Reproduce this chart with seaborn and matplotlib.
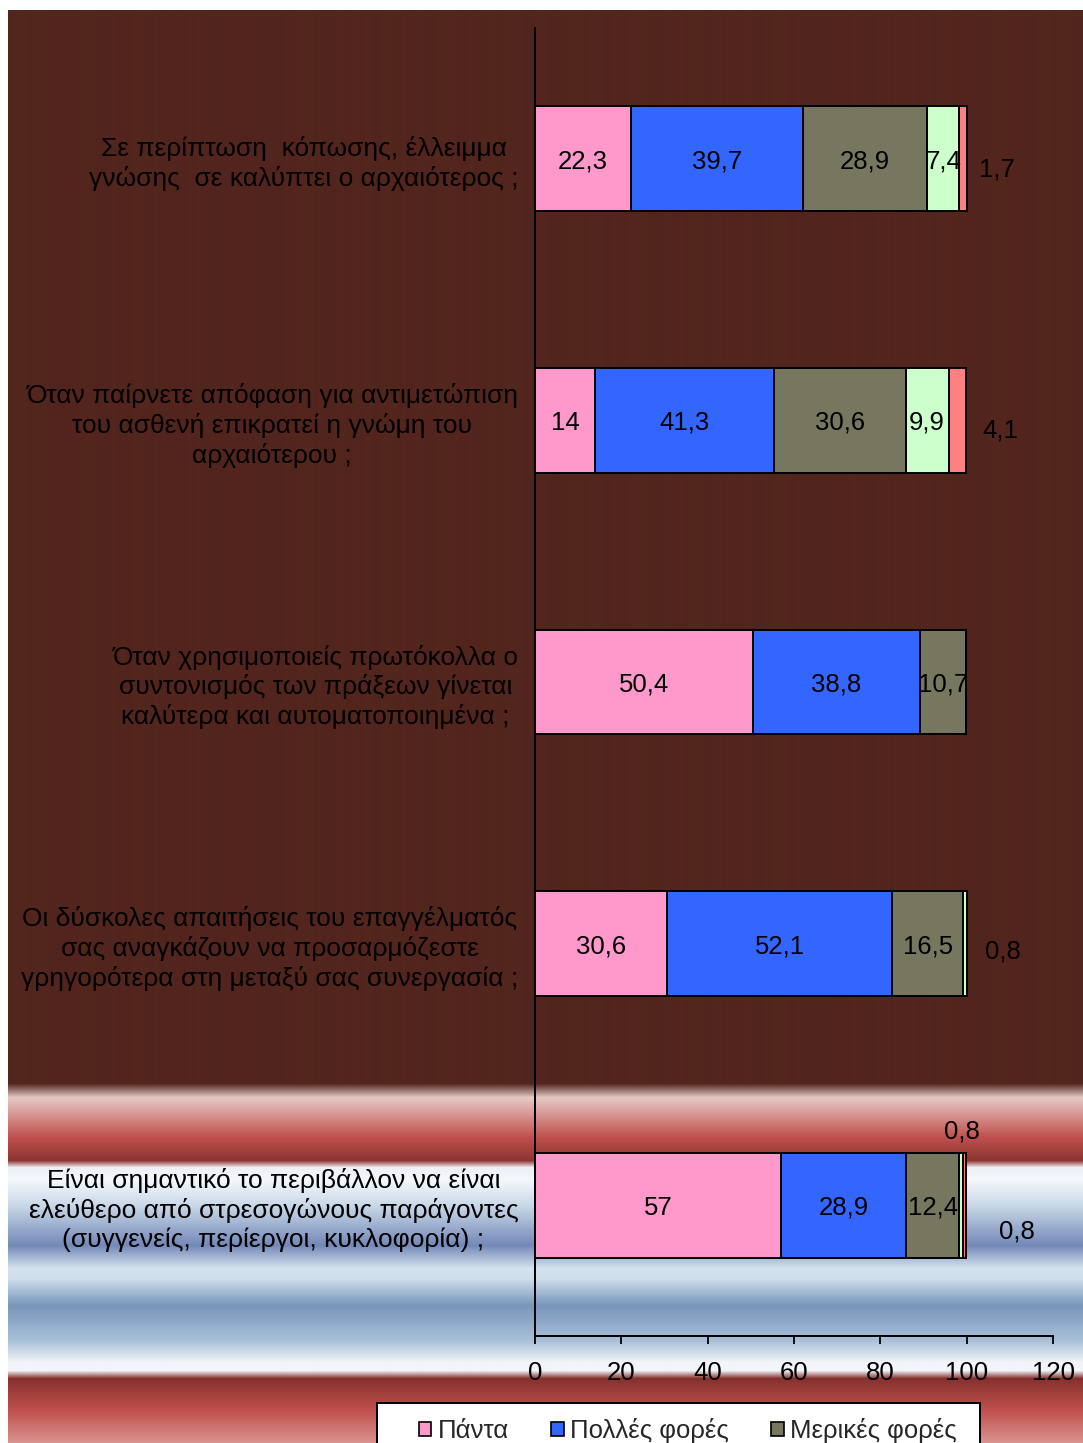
import numpy as np
import pandas as pd
import matplotlib
matplotlib.use("Agg")
import matplotlib.pyplot as plt
from matplotlib.colors import to_rgb
from matplotlib.patches import Patch, Rectangle
import seaborn as sns

# ---- data -----------------------------------------------------------------
questions = [
    "Σε περίπτωση  κόπωσης, έλλειμμα\nγνώσης  σε καλύπτει ο αρχαιότερος ;",
    "Όταν παίρνετε απόφαση για αντιμετώπιση\nτου ασθενή επικρατεί η γνώμη του\nαρχαιότερου ;",
    "Όταν χρησιμοποιείς πρωτόκολλα ο\nσυντονισμός των πράξεων γίνεται\nκαλύτερα και αυτοματοποιημένα ;",
    "Οι δύσκολες απαιτήσεις του επαγγέλματός\nσας αναγκάζουν να προσαρμόζεστε\nγρηγορότερα στη μεταξύ σας συνεργασία ;",
    "Είναι σημαντικό το περιβάλλον να είναι\nελεύθερο από στρεσογώνους παράγοντες\n(συγγενείς, περίεργοι, κυκλοφορία) ;",
]
panta = [22.3, 14, 50.4, 30.6, 57]
polles = [39.7, 41.3, 38.8, 52.1, 28.9]
merikes = [28.9, 30.6, 10.7, 16.5, 12.4]
spania = [7.4, 9.9, 0, 0.8, 0.8]
pote = [1.7, 4.1, 0, 0, 0.8]

series_values = [panta, polles, merikes, spania, pote]
series_colors = ["#FF99CC", "#3366FF", "#777760", "#CCFFCC", "#FF8080"]
legend_labels = ["Πάντα", "Πολλές φορές", "Μερικές φορές"]
x_ticks = [0, 20, 40, 60, 80, 100, 120]

# ---- figure ---------------------------------------------------------------
W, H = 1083, 1443
sns.set_theme(style="white")
plt.rcParams["font.family"] = ["Liberation Sans", "DejaVu Sans"]
FS_CAT = 19
FS_VAL = 18.5

fig = plt.figure(figsize=(W / 100, H / 100), dpi=100, facecolor="white")

# background: dark brown panel with banded gradient near the bottom
stops = [
    (10, "#52251D"), (1083, "#52251D"), (1097, "#E6CAC6"), (1137, "#C0504D"),
    (1160, "#8B3432"), (1167, "#EDF1F7"), (1180, "#F4F7FB"), (1205, "#C9D8E8"),
    (1245, "#7489B8"), (1268, "#D5E3EF"), (1278, "#D0DFEC"), (1305, "#7896BB"),
    (1340, "#A9C0D8"), (1362, "#F2F5F9"), (1370, "#F2F5F9"), (1378, "#86302E"),
    (1410, "#C0504D"), (1443, "#DA9592"),
]
ys = np.arange(10, H)
sp = np.array([s[0] for s in stops], float)
cols = np.array([to_rgb(s[1]) for s in stops])
grad = np.stack([np.interp(ys, sp, cols[:, k]) for k in range(3)], axis=1)
bg = fig.add_axes([8 / W, 0, 1 - 8 / W, (H - 10) / H], zorder=-5)
bg.imshow(grad[:, None, :], aspect="auto", interpolation="bilinear")
bg.set_axis_off()

# main chart area
x0, x1 = 535 / W, 1053 / W
y_top, y_bot = 1 - 28 / H, 1 - 1336 / H
ax = fig.add_axes([x0, y_bot, x1 - x0, y_top - y_bot])
ax.set_facecolor("none")

# stacked bars: draw cumulative totals from the outermost layer inward
cum = np.cumsum(np.array(series_values, float), axis=0)
for k in range(len(series_values) - 1, -1, -1):
    df = pd.DataFrame({"q": questions, "v": cum[k]})
    sns.barplot(data=df, x="v", y="q", orient="h", color=series_colors[k],
                saturation=1, width=0.4, edgecolor="black", linewidth=1.4,
                errorbar=None, ax=ax)

ax.set_xlim(0, 120)
ax.set_ylim(4.5, -0.5)
ax.set_xticks(x_ticks)
ax.set_xticklabels([str(t) for t in x_ticks], fontsize=FS_VAL, color="black")
ax.set_xlabel("")
ax.set_ylabel("")
for lbl in ax.get_yticklabels():
    lbl.set_multialignment("center")
    lbl.set_fontsize(FS_CAT)
    lbl.set_linespacing(1.24)
    lbl.set_color("black")
ax.tick_params(axis="y", length=0, pad=12)
ax.tick_params(axis="x", direction="out", length=6, width=1.3, color="black",
               pad=12, bottom=True)
for side in ("top", "right"):
    ax.spines[side].set_visible(False)
for side in ("left", "bottom"):
    ax.spines[side].set_color("black")
    ax.spines[side].set_linewidth(1.4)


def fmt(v):
    return f"{v:g}".replace(".", ",")


# value labels: inside each segment, or beside the bar for the thin ones
outside = {
    (0, 4): (107.0, 0.03),
    (1, 4): (107.7, 0.03),
    (3, 3): (108.4, 0.02),
    (4, 3): (98.9, -0.29),
    (4, 4): (111.7, 0.09),
}
for i in range(len(questions)):
    left = 0.0
    for k, vals in enumerate(series_values):
        v = vals[i]
        if v > 0:
            if (i, k) in outside:
                xx, dy = outside[(i, k)]
                ax.text(xx, i + dy, fmt(v), ha="center", va="center_baseline",
                        fontsize=FS_VAL, color="black")
            else:
                ax.text(left + v / 2, i, fmt(v), ha="center",
                        va="center_baseline", fontsize=FS_VAL, color="black")
        left += v

# legend box (runs off the bottom edge) with its entries
fig.patches.append(Rectangle((377 / W, -0.02), 603 / W, 0.02 + 1 - 1403 / H,
                             transform=fig.transFigure, facecolor="white",
                             edgecolor="black", linewidth=1.4, zorder=2))
handles = [Patch(facecolor=c, edgecolor="black", linewidth=1.2)
           for c in series_colors[:3]]
leg = fig.legend(handles, legend_labels, loc="upper left",
                 bbox_to_anchor=(419 / W, 1 - 1418 / H), ncol=3,
                 fontsize=FS_VAL, frameon=False, borderpad=0,
                 handlelength=0.48, handleheight=0.48, handletextpad=0.25,
                 columnspacing=1.65, borderaxespad=0)
leg.set_zorder(3)

fig.savefig("out.png", dpi=100, facecolor="white")
